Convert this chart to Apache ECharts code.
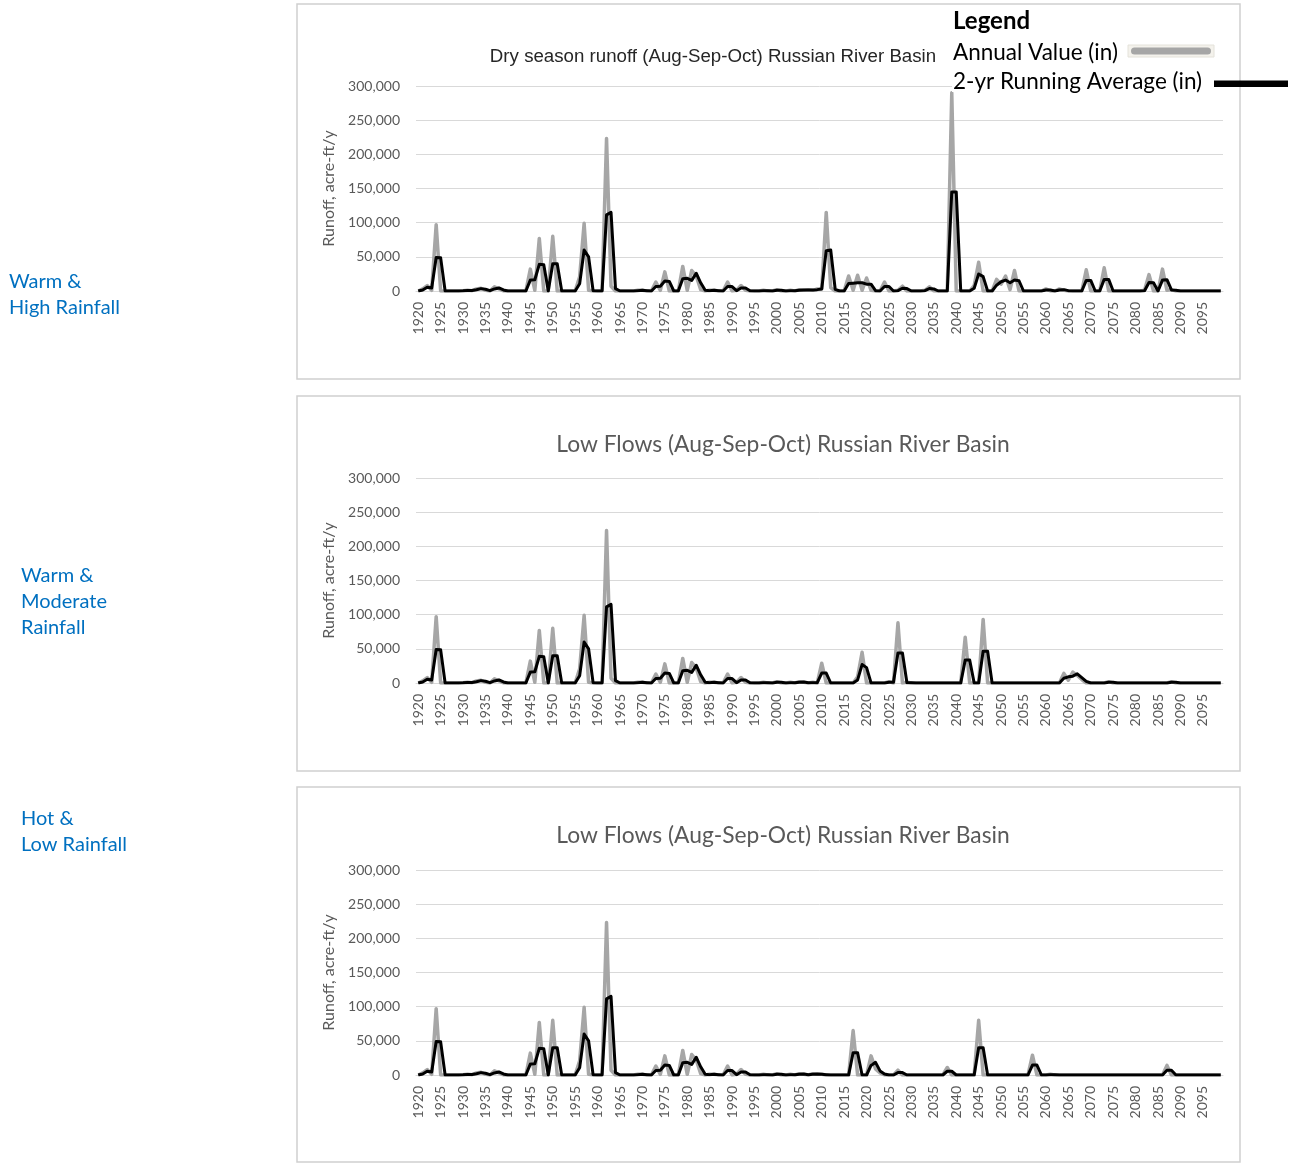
<!DOCTYPE html>
<html>
<head>
<meta charset="utf-8">
<title>Russian River Basin dry season runoff</title>
<script src="https://cdn.jsdelivr.net/npm/echarts/dist/echarts.min.js"></script>
<style>
  html, body { margin: 0; padding: 0; background: #ffffff; }
  #chart { width: 1294px; height: 1163px; }
</style>
</head>
<body>
<div id="chart"></div>
<script>
// Water years shown on the category axis
const firstYear = 1920;
const lastYear = 2099;
const years = [];
for (let y = firstYear; y <= lastYear; y++) years.push(String(y));

// Y axis ticks (acre-ft/y)
const yTicks = [0, 50000, 100000, 150000, 200000, 250000, 300000];

// Shared historical period 1920-2005: annual Aug-Sep-Oct runoff (acre-ft)
const histAnnual = [
  0, 3000, 8000, 1000, 97000, 0, 0, 0, 0, 0,
  500, 1000, 500, 3000, 4000, 1000, 0, 6000, 3000, 0,
  0, 0, 0, 0, 0, 32000, 1000, 77000, 0, 0,
  80000, 0, 0, 0, 0, 0, 21000, 99000, 1000, 0,
  0, 0, 223000, 7000, 0, 0, 0, 0, 0, 1000,
  1000, 0, 0, 13000, 1000, 28000, 0, 0, 0, 36000,
  1000, 30000, 22000, 2000, 0, 1000, 1000, 0, 0, 13000,
  0, 1000, 8000, 1000, 0, 0, 0, 1000, 0, 0,
  2000, 0, 0, 1000, 0, 2000
];
// Shared historical period 1920-2005: 2-yr running average (acre-ft)
const histAvg = [
  0, 1500, 5500, 4500, 49000, 48500, 0, 0, 0, 0,
  250, 750, 750, 1750, 3500, 2500, 500, 3000, 4500, 1500,
  0, 0, 0, 0, 0, 16000, 16500, 39000, 38500, 0,
  40000, 40000, 0, 0, 0, 0, 10500, 60000, 50000, 500,
  0, 0, 111500, 115000, 3500, 0, 0, 0, 0, 500,
  1000, 500, 0, 6500, 7000, 14500, 14000, 0, 0, 18000,
  18500, 15500, 26000, 12000, 1000, 500, 1000, 500, 0, 6500,
  6500, 500, 4500, 4500, 500, 0, 0, 500, 500, 0,
  1000, 1000, 0, 500, 500, 1000
];

// Warm & High Rainfall, 2006-2099
const highAnnual = [
  1000, 2000, 1000, 3000, 3000, 115000, 5000, 0, 0, 0,
  22000, 1000, 23000, 1000, 19000, 1000, 0, 0, 13000, 0,
  0, 1000, 7000, 0, 0, 0, 0, 1000, 6000, 0,
  0, 0, 0, 290000, 0, 0, 0, 0, 8000, 42000,
  0, 0, 0, 17000, 10000, 22000, 2000, 30000, 0, 0,
  0, 0, 0, 0, 3000, 0, 0, 3000, 1000, 0,
  0, 0, 0, 31000, 0, 0, 0, 34000, 0, 0,
  0, 0, 0, 0, 0, 0, 1000, 24000, 0, 0,
  32000, 1000, 2000, 0, 0, 0, 0, 0, 0, 0,
  0, 0, 0, 0
];
const highAvg = [
  1500, 1500, 1500, 2000, 3000, 59000, 60000, 2500, 0, 0,
  11000, 11500, 12000, 12000, 10000, 10000, 500, 0, 6500, 6500,
  0, 500, 4000, 3500, 0, 0, 0, 500, 3500, 3000,
  0, 0, 0, 145000, 145000, 0, 0, 0, 4000, 25000,
  21000, 0, 0, 8500, 13500, 16000, 12000, 16000, 15000, 0,
  0, 0, 0, 0, 1500, 1500, 0, 1500, 2000, 500,
  0, 0, 0, 15500, 15500, 0, 0, 17000, 17000, 0,
  0, 0, 0, 0, 0, 0, 500, 12500, 12000, 0,
  16000, 16500, 1500, 1000, 0, 0, 0, 0, 0, 0,
  0, 0, 0, 0
];

// Warm & Moderate Rainfall, 2006-2099
const modAnnual = [
  1000, 0, 1000, 0, 29000, 0, 0, 0, 0, 0,
  0, 0, 9000, 45000, 0, 0, 0, 0, 0, 2000,
  0, 88000, 0, 1000, 0, 0, 0, 0, 0, 0,
  0, 0, 0, 0, 0, 0, 67000, 0, 0, 0,
  93000, 0, 0, 0, 0, 0, 0, 0, 0, 0,
  0, 0, 0, 0, 0, 0, 0, 0, 14000, 4000,
  16000, 11000, 5000, 0, 0, 0, 0, 0, 2000, 0,
  0, 0, 0, 0, 0, 0, 0, 0, 0, 0,
  0, 0, 2000, 0, 0, 0, 0, 0, 0, 0,
  0, 0, 0, 0
];
const modAvg = [
  1500, 500, 500, 500, 14500, 14500, 0, 0, 0, 0,
  0, 0, 4500, 27000, 22500, 0, 0, 0, 0, 1000,
  1000, 44000, 44000, 500, 500, 0, 0, 0, 0, 0,
  0, 0, 0, 0, 0, 0, 33500, 33500, 0, 0,
  46500, 46500, 0, 0, 0, 0, 0, 0, 0, 0,
  0, 0, 0, 0, 0, 0, 0, 0, 7000, 9000,
  10000, 13500, 8000, 2500, 0, 0, 0, 0, 1000, 1000,
  0, 0, 0, 0, 0, 0, 0, 0, 0, 0,
  0, 0, 1000, 1000, 0, 0, 0, 0, 0, 0,
  0, 0, 0, 0
];

// Hot & Low Rainfall, 2006-2099
const lowAnnual = [
  1000, 0, 2000, 1000, 1000, 0, 0, 0, 0, 0,
  0, 65000, 0, 0, 0, 28000, 9000, 3000, 0, 0,
  0, 7000, 0, 0, 0, 0, 0, 0, 0, 0,
  0, 0, 11000, 0, 0, 0, 0, 0, 0, 80000,
  0, 0, 0, 0, 0, 0, 0, 0, 0, 0,
  0, 29000, 0, 0, 0, 1000, 0, 0, 0, 0,
  0, 0, 0, 0, 0, 0, 0, 0, 0, 0,
  0, 0, 0, 0, 0, 0, 0, 0, 0, 0,
  0, 14000, 0, 0, 0, 0, 0, 0, 0, 0,
  0, 0, 0, 0
];
const lowAvg = [
  1500, 500, 1000, 1500, 1000, 500, 0, 0, 0, 0,
  0, 32500, 32500, 0, 0, 14000, 18500, 6000, 1500, 0,
  0, 3500, 3500, 0, 0, 0, 0, 0, 0, 0,
  0, 0, 5500, 5500, 0, 0, 0, 0, 0, 40000,
  40000, 0, 0, 0, 0, 0, 0, 0, 0, 0,
  0, 14500, 14500, 0, 0, 500, 500, 0, 0, 0,
  0, 0, 0, 0, 0, 0, 0, 0, 0, 0,
  0, 0, 0, 0, 0, 0, 0, 0, 0, 0,
  0, 7000, 7000, 0, 0, 0, 0, 0, 0, 0,
  0, 0, 0, 0
];

const scenarios = [
  { label: ['Warm &', 'High Rainfall'], title: 'Dry season runoff (Aug-Sep-Oct) Russian River Basin',
    annual: histAnnual.concat(highAnnual), avg: histAvg.concat(highAvg) },
  { label: ['Warm &', 'Moderate', 'Rainfall'], title: 'Low Flows (Aug-Sep-Oct) Russian River Basin',
    annual: histAnnual.concat(modAnnual), avg: histAvg.concat(modAvg) },
  { label: ['Hot &', 'Low Rainfall'], title: 'Low Flows (Aug-Sep-Oct) Russian River Basin',
    annual: histAnnual.concat(lowAnnual), avg: histAvg.concat(lowAvg) }
];

// Layout of the three stacked panels
const panelTops = [4, 396, 787];
const gridTops = [86, 478, 870];
const gridHeight = 205;
const labelTops = [272, 566, 809];

const AXIS_TEXT = '#595959';
const GRID_LINE = '#D9D9D9';
const GRAY = '#A6A6A6';

const grids = [], xAxes = [], yAxes = [], series = [], titles = [], graphics = [];

scenarios.forEach((sc, i) => {
  grids.push({ left: 416, right: 71, top: gridTops[i], height: gridHeight, containLabel: false });
  xAxes.push({
    type: 'category', gridIndex: i, data: years, boundaryGap: true,
    axisLine: { show: true, lineStyle: { color: GRID_LINE } },
    axisTick: { show: false },
    axisLabel: { interval: 4, rotate: 90, margin: 11, color: AXIS_TEXT, fontFamily: 'Lato', fontSize: 14 }
  });
  yAxes.push({
    type: 'value', gridIndex: i, min: yTicks[0], max: yTicks[yTicks.length - 1], interval: yTicks[1] - yTicks[0],
    name: 'Runoff, acre-ft/y', nameLocation: 'middle', nameRotate: 90, nameGap: 75,
    nameTextStyle: { color: AXIS_TEXT, fontFamily: 'Lato', fontSize: 16 },
    axisLine: { show: false }, axisTick: { show: false },
    splitLine: { lineStyle: { color: GRID_LINE, width: 1 } },
    axisLabel: { margin: 16, color: AXIS_TEXT, fontFamily: 'Lato', fontSize: 14,
      formatter: v => v.toLocaleString('en-US') }
  });
  series.push({
    name: 'Annual Value (in)', type: 'line', xAxisIndex: i, yAxisIndex: i, data: sc.annual,
    showSymbol: false, symbol: 'none', z: 2,
    lineStyle: { color: GRAY, width: 3.5, join: 'round' }, animation: false
  });
  series.push({
    name: '2-yr Running Average (in)', type: 'line', xAxisIndex: i, yAxisIndex: i, data: sc.avg,
    showSymbol: false, symbol: 'none', z: 3,
    lineStyle: { color: '#000000', width: 3, join: 'round' }, animation: false
  });

  // Panel frame
  graphics.push({
    type: 'rect', z: -10, silent: true,
    shape: { x: 297, y: panelTops[i], width: 943, height: 375 },
    style: { fill: 'none', stroke: '#D0D0D0', lineWidth: 1.5 }
  });

  // Scenario label on the left
  sc.label.forEach((line, k) => {
    graphics.push({
      type: 'text', left: i === 0 ? 9 : 21, top: labelTops[i] + k * 26, silent: true,
      style: { text: line, fill: '#0070C0', font: '20px Lato' }
    });
  });

  if (i === 0) {
    titles.push({
      text: sc.title, left: 708, top: 42, textAlign: 'center',
      textStyle: { color: '#262626', fontFamily: 'Liberation Sans Narrow, Liberation Sans', fontWeight: 'normal', fontSize: 18.7 }
    });
  } else {
    titles.push({
      text: sc.title, left: 778, top: panelTops[i] + 32, textAlign: 'center',
      textStyle: { color: AXIS_TEXT, fontFamily: 'Lato', fontWeight: 'normal', fontSize: 22.8 }
    });
  }
});

// Legend block in the first panel, on a white backing over the top gridline
graphics.push(
  { type: 'rect', z: 100, silent: true, shape: { x: 952, y: 6, width: 287, height: 86 }, style: { fill: '#ffffff' } },
  { type: 'text', z: 101, left: 953, top: 9, silent: true, style: { text: 'Legend', fill: '#000', font: 'bold 24px Lato' } },
  { type: 'text', z: 101, left: 953, top: 41, silent: true, style: { text: 'Annual Value (in)', fill: '#000', font: '22.5px Lato' } },
  { type: 'rect', z: 101, silent: true, shape: { x: 1128, y: 45, width: 86, height: 12 }, style: { fill: '#F4F2EC', stroke: '#E4E2DA', lineWidth: 1 } },
  { type: 'rect', z: 102, silent: true, shape: { x: 1131, y: 47.5, width: 80, height: 7, r: 3.5 }, style: { fill: GRAY } },
  { type: 'text', z: 101, left: 953, top: 70, silent: true, style: { text: '2-yr Running Average (in)', fill: '#000', font: '22.5px Lato' } },
  { type: 'rect', z: 101, silent: true, shape: { x: 1214, y: 80.5, width: 74, height: 6.5 }, style: { fill: '#000' } }
);

const chart = echarts.init(document.getElementById('chart'), null, { renderer: 'canvas' });
chart.setOption({
  animation: false,
  backgroundColor: '#ffffff',
  title: titles,
  grid: grids,
  xAxis: xAxes,
  yAxis: yAxes,
  series: series,
  graphic: graphics
});
</script>
</body>
</html>
